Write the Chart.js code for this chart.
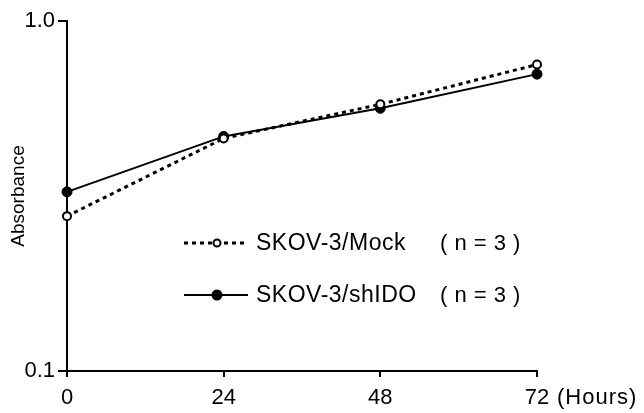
<!DOCTYPE html>
<html>
<head>
<meta charset="utf-8">
<script src="https://cdn.jsdelivr.net/npm/chart.js@4.4.1/dist/chart.umd.min.js"></script>
<style>
    html, body { margin: 0; padding: 0; background: #fff; }
    #wrap { width: 644px; height: 413px; }
</style>
</head>
<body>
<div id="wrap"><canvas id="growthChart" width="644" height="413"></canvas></div>
<script>
// Data
const hours = [0, 24, 48, 72];
const mockValues = [0.277, 0.462, 0.578, 0.751];
const shidoValues = [0.325, 0.468, 0.563, 0.705];
const yTicks = [0.1, 1.0];
const xTicks = [0, 24, 48, 72];
const seriesNames = ['SKOV-3/Mock', 'SKOV-3/shIDO'];
const nLabel = '( n = 3 )';

const FONT = '"Liberation Sans", Arial, sans-serif';

// Legend drawn inside the plot, like the original figure
const insideLegend = {
    id: 'insideLegend',
    afterDraw(chart) {
        const ctx = chart.ctx;
        const rows = [
            { y: 243, dashed: true, fill: '#fff' },
            { y: 295, dashed: false, fill: '#000' }
        ];
        ctx.save();
        rows.forEach((row, i) => {
            ctx.strokeStyle = '#000';
            ctx.lineWidth = row.dashed ? 3 : 2;
            ctx.setLineDash(row.dashed ? [4, 4] : []);
            ctx.beginPath();
            ctx.moveTo(184, row.y);
            ctx.lineTo(248, row.y);
            ctx.stroke();
            ctx.setLineDash([]);
            ctx.beginPath();
            ctx.arc(217, row.y, row.dashed ? 3.5 : 4.5, 0, Math.PI * 2);
            ctx.fillStyle = row.fill;
            ctx.fill();
            ctx.lineWidth = 2;
            ctx.stroke();
            ctx.fillStyle = '#000';
            ctx.font = '23px ' + FONT;
            ctx.letterSpacing = '0.5px';
            ctx.textBaseline = 'middle';
            ctx.textAlign = 'left';
            ctx.fillText(seriesNames[i], 256, row.y + 1);
            ctx.font = '22px ' + FONT;
            ctx.fillText(nLabel, 440, row.y + 1);
        });
        // unit after the last x tick
        const xs = chart.scales.x;
        ctx.font = '22px ' + FONT;
        ctx.letterSpacing = '1px';
        ctx.textAlign = 'left';
        ctx.fillText('(Hours)', xs.getPixelForValue(72) + 20, 398);
        ctx.restore();
    }
};

const ctx = document.getElementById('growthChart').getContext('2d');
const chart = new Chart(ctx, {
    type: 'line',
    data: {
        datasets: [{
            label: seriesNames[0],
            data: hours.map((h, i) => ({ x: h, y: mockValues[i] })),
            borderColor: '#000',
            borderWidth: 3,
            borderDash: [4, 4],
            pointRadius: 4,
            pointBackgroundColor: '#fff',
            pointBorderColor: '#000',
            pointBorderWidth: 2,
            tension: 0
        }, {
            label: seriesNames[1],
            data: hours.map((h, i) => ({ x: h, y: shidoValues[i] })),
            borderColor: '#000',
            borderWidth: 2,
            pointRadius: 5,
            pointBackgroundColor: '#000',
            pointBorderColor: '#000',
            pointBorderWidth: 1,
            tension: 0
        }]
    },
    options: {
        responsive: false,
        animation: false,
        clip: false,
        layout: { padding: { left: 0, right: 107, top: 21, bottom: 0 } },
        plugins: {
            legend: { display: false },
            tooltip: { enabled: false }
        },
        scales: {
            x: {
                type: 'linear',
                min: 0,
                max: 72,
                afterBuildTicks: scale => { scale.ticks = xTicks.map(v => ({ value: v })); },
                afterFit: scale => { scale.height = 42; },
                border: { display: true, color: '#000', width: 2 },
                grid: { display: true, drawOnChartArea: false, drawTicks: true, tickLength: 6, color: '#000', lineWidth: 2 },
                ticks: {
                    color: '#000',
                    font: { family: FONT, size: 22 },
                    padding: 8,
                    maxRotation: 0
                }
            },
            y: {
                type: 'logarithmic',
                min: 0.1,
                max: 1.0,
                afterBuildTicks: scale => { scale.ticks = yTicks.map(v => ({ value: v })); },
                afterFit: scale => { scale.width = 67; },
                border: { display: true, color: '#000', width: 2 },
                grid: { display: true, drawOnChartArea: false, drawTicks: true, tickLength: 9, color: '#000', lineWidth: 2 },
                ticks: {
                    color: '#000',
                    font: { family: FONT, size: 22 },
                    padding: 3,
                    callback: v => v.toFixed(1)
                },
                title: {
                    display: true,
                    text: 'Absorbance',
                    color: '#000',
                    font: { family: FONT, size: 19 },
                    padding: { top: 7, bottom: 0 }
                }
            }
        }
    },
    plugins: [insideLegend]
});
</script>
</body>
</html>
